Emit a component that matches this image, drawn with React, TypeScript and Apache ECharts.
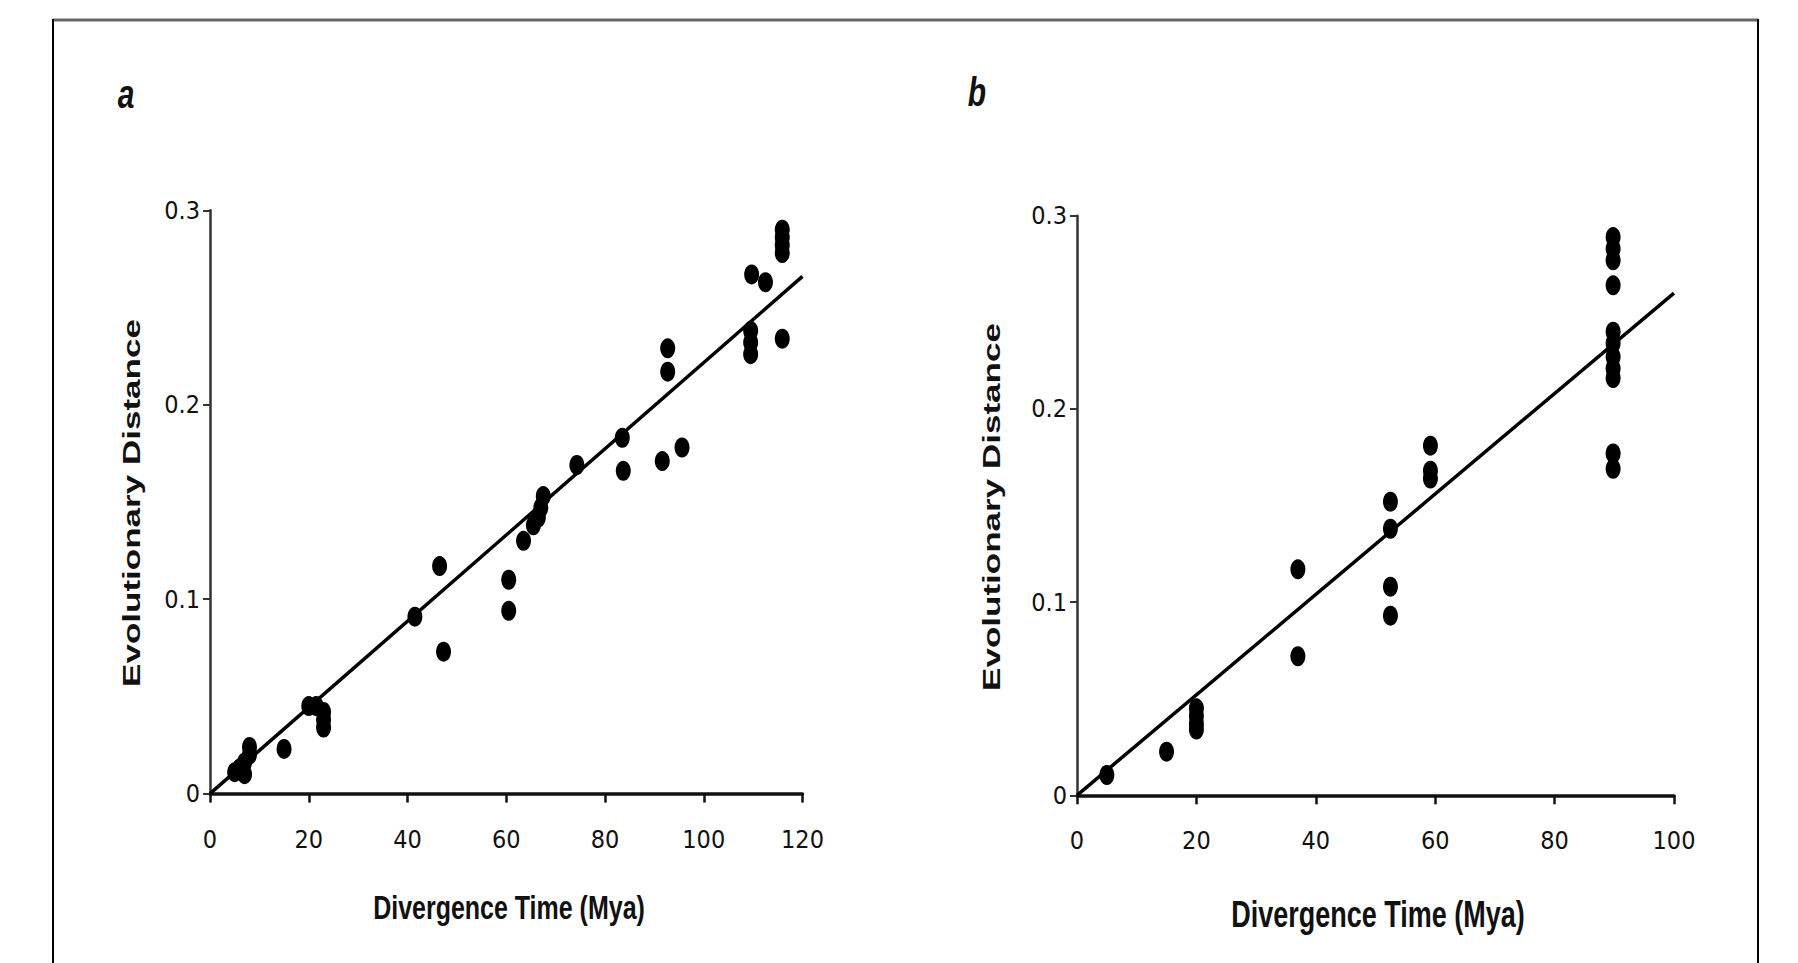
import React, { useEffect, useRef } from "react";
import * as echarts from "echarts";

// Panel a data
const A_X = [5, 6, 7, 7, 8, 8, 15, 20, 21.5, 23, 23, 23, 41.5, 46.5, 47.3, 60.5, 60.5, 63.5, 65.5, 66.5, 67, 67.5, 74.3, 83.5, 83.7, 91.6, 95.6, 92.7, 92.7, 109.7, 112.5, 109.5, 109.5, 109.5, 115.9, 115.9, 115.9, 115.9, 115.9];
const A_Y = [0.011, 0.013, 0.010, 0.016, 0.024, 0.020, 0.023, 0.045, 0.045, 0.042, 0.038, 0.034, 0.091, 0.117, 0.073, 0.110, 0.094, 0.130, 0.138, 0.142, 0.147, 0.153, 0.169, 0.183, 0.166, 0.171, 0.178, 0.229, 0.217, 0.267, 0.263, 0.238, 0.232, 0.226, 0.234, 0.290, 0.286, 0.282, 0.278];
const A_FIT_X = [0, 120];
const A_FIT_Y = [0, 0.266];

// Panel b data
const B_X = [5, 15, 20, 20, 20, 20, 37, 37, 52.5, 52.5, 52.5, 52.5, 59.2, 59.2, 59.2, 89.8, 89.8, 89.8, 89.8, 89.8, 89.8, 89.8, 89.8, 89.8, 89.8, 89.8];
const B_Y = [0.0105, 0.0226, 0.045, 0.041, 0.037, 0.034, 0.117, 0.072, 0.152, 0.138, 0.108, 0.093, 0.181, 0.168, 0.164, 0.289, 0.283, 0.277, 0.264, 0.240, 0.234, 0.227, 0.221, 0.216, 0.177, 0.169];
const B_FIT_X = [0, 100];
const B_FIT_Y = [0, 0.26];

const Y_TITLE = "Evolutionary Distance";
const X_TITLE = "Divergence Time (Mya)";

const NARROW = "'Liberation Sans Narrow', 'DejaVu Sans Condensed', 'Liberation Sans', Arial, sans-serif";
const SANS = "'Liberation Sans', Arial, sans-serif";

const zip = (xs: number[], ys: number[]) => xs.map((x, i) => [x, ys[i]]);

export default function App() {
  const ref = useRef<HTMLDivElement>(null);
  useEffect(() => {
    if (!ref.current) return;
    const chart = echarts.init(ref.current, null, { renderer: "svg" });

    const xAxisBase = (max: number, gi: number) => ({
      type: "value",
      gridIndex: gi,
      min: 0,
      max,
      interval: 20,
      splitLine: { show: false },
      axisLine: { show: true, onZero: false, lineStyle: { color: "#111", width: 3.5 } },
      axisTick: { show: true, length: 9, lineStyle: { color: "#111", width: 2.5 } },
      axisLabel: { margin: 33, fontSize: 25, fontFamily: NARROW, color: "#111" },
    });
    const yAxisBase = (gi: number) => ({
      type: "value",
      gridIndex: gi,
      min: 0,
      max: 0.3,
      interval: 0.1,
      splitLine: { show: false },
      axisLine: { show: true, onZero: false, lineStyle: { color: "#333", width: 2.5 } },
      axisTick: { show: true, length: 7, lineStyle: { color: "#333", width: 2 } },
      axisLabel: {
        margin: 10,
        fontSize: 25,
        fontFamily: NARROW,
        color: "#111",
        formatter: (v: number) => (v === 0 ? "0" : v.toFixed(1)),
      },
    });

    const dot = {
      type: "scatter",
      symbol: "circle",
      symbolSize: [15, 20],
      itemStyle: { color: "#000", opacity: 1 },
      z: 3,
    };
    const fit = {
      type: "line",
      showSymbol: false,
      symbol: "none",
      lineStyle: { color: "#000", width: 3.5 },
      z: 2,
    };

    const titleText = (text: string, x: number, y: number, size: number, rot: number, sx: number, sy: number, italic = false) => ({
      type: "text",
      x,
      y,
      rotation: rot,
      scaleX: sx,
      scaleY: sy,
      style: {
        text,
        fontSize: size,
        fontWeight: "bold",
        fontStyle: italic ? "italic" : "normal",
        fontFamily: SANS,
        fill: "#111",
        textAlign: "center",
        textVerticalAlign: "middle",
      },
    });

    chart.setOption({
      animation: false,
      backgroundColor: "#fff",
      grid: [
        { left: 210, top: 210.3, width: 592.5, height: 583.3 },
        { left: 1077, top: 215.8, width: 597, height: 579.5 },
      ],
      xAxis: [xAxisBase(120, 0), xAxisBase(100, 1)],
      yAxis: [yAxisBase(0), yAxisBase(1)],
      series: [
        { ...fit, xAxisIndex: 0, yAxisIndex: 0, data: zip(A_FIT_X, A_FIT_Y) },
        { ...dot, xAxisIndex: 0, yAxisIndex: 0, data: zip(A_X, A_Y) },
        { ...fit, xAxisIndex: 1, yAxisIndex: 1, data: zip(B_FIT_X, B_FIT_Y) },
        { ...dot, xAxisIndex: 1, yAxisIndex: 1, data: zip(B_X, B_Y) },
      ],
      graphic: [
        { type: "line", shape: { x1: 53, y1: 20, x2: 1758, y2: 20 }, style: { stroke: "#666", lineWidth: 3 } },
        { type: "line", shape: { x1: 53, y1: 19, x2: 53, y2: 963 }, style: { stroke: "#000", lineWidth: 2 } },
        { type: "line", shape: { x1: 1758, y1: 19, x2: 1758, y2: 963 }, style: { stroke: "#000", lineWidth: 2 } },
        titleText("a", 126, 94, 30, 0, 1, 1.35, true),
        titleText("b", 977, 92, 30, 0, 1, 1.35, true),
        titleText(Y_TITLE, 132, 503, 24, Math.PI / 2, 1.46, 1),
        titleText(Y_TITLE, 992, 507, 24, Math.PI / 2, 1.46, 1),
        titleText(X_TITLE, 509, 907.5, 25, 0, 1, 1.345),
        titleText(X_TITLE, 1378, 914, 27, 0, 1, 1.37),
      ],
    });
    return () => chart.dispose();
  }, []);
  return <div ref={ref} style={{ position: "absolute", left: 0, top: 0, width: 1798, height: 963 }} />;
}
